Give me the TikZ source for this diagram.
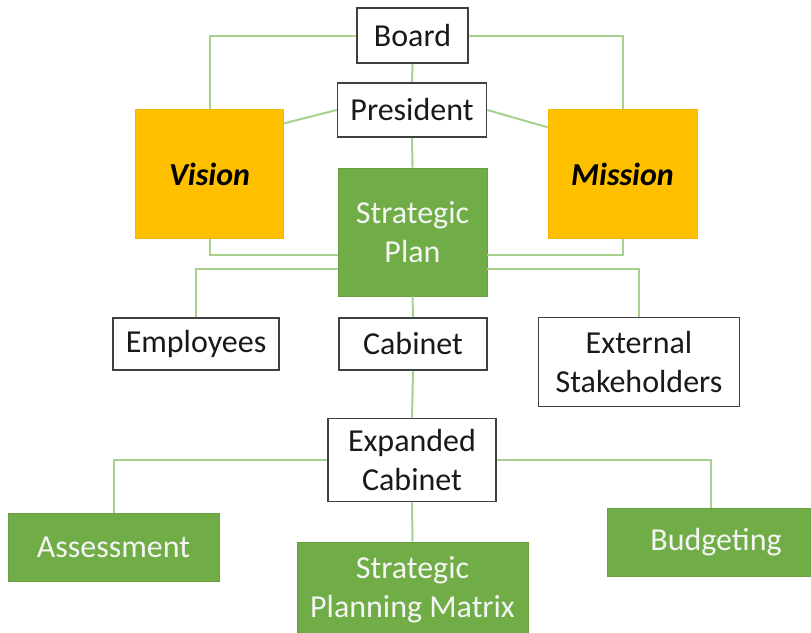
\documentclass[tikz,border=0pt]{standalone}
\usepackage{fontspec}
\setmainfont{Carlito}
\usetikzlibrary{calc}
\definecolor{boxgray}{HTML}{3F3F3F}
\definecolor{leafgreen}{HTML}{70AD47}
\definecolor{amber}{HTML}{FFC000}
\definecolor{linkgreen}{HTML}{A9D18E}
\begin{document}
\begin{tikzpicture}[x=1pt,y=-1pt,
  box/.style={rectangle, inner sep=0pt, align=center, font=\fontsize{32}{39}\selectfont},
  wbox/.style={box, draw=boxgray, line width=1.6pt, fill=white, text=black!90},
  gbox/.style={box, fill=leafgreen, draw=leafgreen!92!black, line width=0.8pt, text=white!96!black},
  obox/.style={box, fill=amber, draw=amber!95!black, line width=0.8pt, text=black},
  link/.style={draw=linkgreen, line width=2pt}]
\clip (0,0) rectangle (811,632);
\fill[white] (0,0) rectangle (811,632);

% governance and guiding statements
\node[wbox, minimum width=111pt, minimum height=55pt] (board) at (412.5,35.5) {Board};
\node[wbox, minimum width=149pt, minimum height=54pt] (pres) at (412,110) {President};
\node[obox, minimum width=148pt, minimum height=129pt] (vision) at (209.5,174) {\bfseries\itshape Vision};
\node[obox, minimum width=149pt, minimum height=129pt] (mission) at (622.5,174) {\bfseries\itshape Mission};
\node[gbox, minimum width=149pt, minimum height=128pt] (plan) at (412.5,232) {Strategic\\Plan};

% groups informed by the plan
\node[wbox, minimum width=166pt, minimum height=52pt] (emp) at (196,344) {Employees};
\node[wbox, minimum width=148pt, minimum height=52pt] (cab) at (413,344) {Cabinet};
\node[wbox, minimum width=201pt, minimum height=89pt] (ext) at (639,362) {External\\Stakeholders};
\node[wbox, minimum width=168pt, minimum height=83pt] (excab) at (412,460) {Expanded\\Cabinet};

% planning processes
\node[gbox, minimum width=211pt, minimum height=68pt] (assess) at (113.5,547) {Assessment};
\node[gbox, minimum width=231pt, minimum height=96pt] (matrix) at (412.5,590) {Strategic\\Planning Matrix};
\node[gbox, minimum width=218pt, minimum height=68pt] (budget) at (716,542) {Budgeting};

% connectors
\draw[link] (board.west) -| (vision.north);
\draw[link] (board.east) -| (mission.north);
\draw[link] (board.south) -- (pres.north);
\draw[link] (pres.west) -- ($(vision.north east)!0.11!(vision.south east)$);
\draw[link] (pres.east) -- ($(mission.north west)!0.14!(mission.south west)$);
\draw[link] (pres.south) -- (plan.north);
\draw[link] (vision.south) |- ($(plan.north west)!0.68!(plan.south west)$);
\draw[link] (mission.south) |- ($(plan.north east)!0.68!(plan.south east)$);
\draw[link] ($(plan.north west)!0.79!(plan.south west)$) -| (emp.north);
\draw[link] ($(plan.north east)!0.79!(plan.south east)$) -| (ext.north);
\draw[link] (plan.south) -- (cab.north);
\draw[link] (cab.south) -- (excab.north);
\draw[link] (excab.south) -- (matrix.north);
\draw[link] (excab.west) -| (assess.north);
\draw[link] (excab.east) -| ($(budget.north west)!0.477!(budget.north east)$);
\end{tikzpicture}
\end{document}
